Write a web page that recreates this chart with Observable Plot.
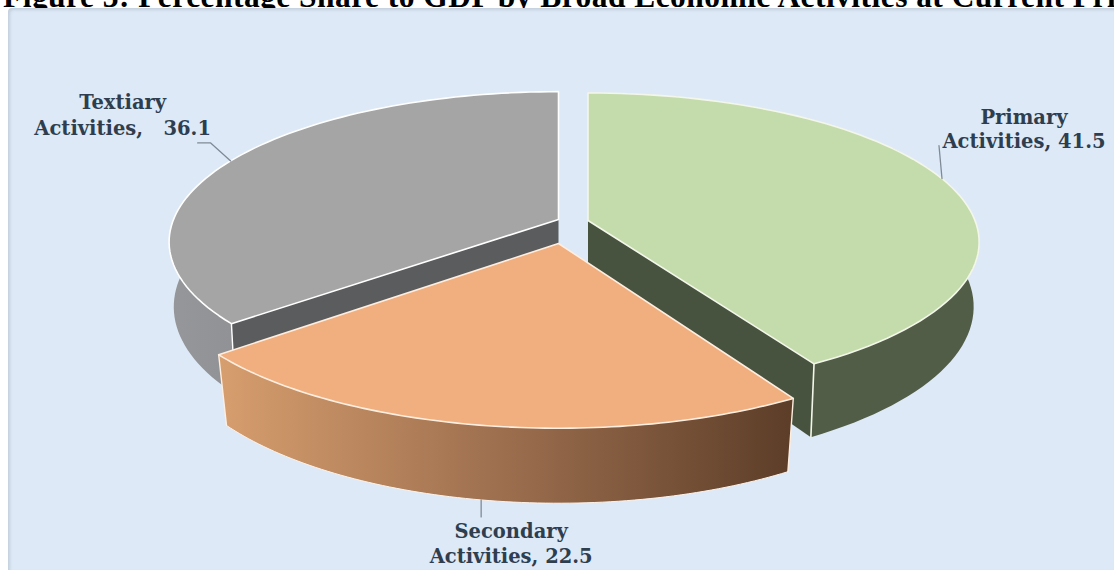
<!DOCTYPE html>
<html>
<head>
<meta charset="utf-8">
<script src="https://cdn.jsdelivr.net/npm/d3@7"></script>
<script src="https://cdn.jsdelivr.net/npm/@observablehq/plot@0.6"></script>
<style>
html,body{margin:0;padding:0;background:#fff;overflow:hidden;width:1114px;height:570px}
#title{height:8px;overflow:hidden;position:relative}
#title span{position:absolute;left:3px;bottom:-6px;white-space:nowrap;font:bold 31.5px/34px "Liberation Serif",serif;color:#000;letter-spacing:.45px}
#chart{margin-left:8px}
#chart svg{display:block;background:#dde9f6;border-top-left-radius:4px;box-shadow:inset 2px 2px 3px rgba(150,160,175,.35)}
</style>
</head>
<body>
<div id="title"><span>Figure 3: Percentage Share to GDP by Broad Economic Activities at Current Prices</span></div>
<div id="chart"></div>
<script>
const categories = ["Primary", "Secondary", "Textiary"];
const shares = [41.5, 22.5, 36.1];
const labelFirst = ["Primary", "Secondary", "Textiary"];
const labelSecond = ["Activities, 41.5", "Activities, 22.5", "Activities,   36.1"];

const total = d3.sum(shares);
const cum = d3.cumsum(shares);
const sliceAngles = shares.map((_, i) => [(i ? cum[i - 1] : 0) / total * 2 * Math.PI, cum[i] / total * 2 * Math.PI]);

// 3-D view of each exploded slice
const view = {
  Primary:   {cx: 587.5, cy: 220, A: 387, B: 146, k: 0.145, shrink: 0.014},
  Secondary: {cx: 558,   cy: 243, A: 400, B: 157, k: 0.15,  shrink: 0.023},
  Textiary:  {cx: 558,   cy: 219, A: 385, B: 147, k: 0.15,  shrink: 0.012}
};
const style = {
  Primary:   {top: "#c4dbab", wall: "#525d47", side: "#47533f", edge: "#f3f7ea"},
  Secondary: {top: "#f1ae7e", wall: "url(#wallSecondary)", side: "none", edge: "#fdeee0"},
  Textiary:  {top: "#a5a5a5", wall: "url(#wallTextiary)", side: "#5b5c5e", edge: "#ffffff"}
};
function project(name, t, depth) {
  const v = view[name], s = Math.sin(t), c = -Math.cos(t), f = 1 / (1 - v.k * c);
  return [v.cx + v.A * s * f * (1 - v.shrink * depth), v.cy + v.B * c * f + depth * (63 + 12 * c)];
}
function arc(name, t0, t1, depth) {
  return d3.range(81).map(i => project(name, t0 + (t1 - t0) * i / 80, depth));
}
const apex = (name, depth) => [view[name].cx, view[name].cy + depth * 63];

const drawOrder = ["Textiary", "Primary", "Secondary"];
const marks = [];
const poly = (pts, fill, stroke, w) => Plot.line([...pts, pts[0]], {x: d => d[0], y: d => d[1], fill, stroke: stroke || "none", strokeWidth: w || 0, curve: "linear", strokeLinejoin: "round"});

for (const name of drawOrder) {
  const i = categories.indexOf(name), [t0, t1] = sliceAngles[i], st = style[name];
  // outer wall
  marks.push(poly([...arc(name, t0, t1, 0), ...arc(name, t0, t1, 1).reverse()], st.wall));
  // cut wall facing the viewer
  if (name === "Primary") {
    const a = project(name, t1, 0), b = project(name, t1, 1);
    marks.push(poly([apex(name, 0), a, b, apex(name, 1)], st.side));
    marks.push(poly([a, b], "none", st.edge, 1.6));
  }
  if (name === "Textiary") {
    const a = project(name, t0, 0), b = project(name, t0, 1);
    marks.push(poly([apex(name, 0), a, b, apex(name, 1)], st.side));
    marks.push(poly([a, b], "none", st.edge, 1.4));
  }
  if (name === "Secondary") {
    const a = project(name, t0, 0), b = project(name, t0, 1);
    const c = project(name, t1, 0), d = project(name, t1, 1);
    marks.push(poly([a, b], "none", st.edge, 1.4));
    marks.push(poly([c, d], "none", st.edge, 1.4));
    marks.push(Plot.line(arc(name, t0, t1, 1), {x: d => d[0], y: d => d[1], stroke: "#fdf3ea", strokeWidth: 1}));
  }
  // top face
  marks.push(poly([apex(name, 0), ...arc(name, t0, t1, 0)], st.top, st.edge, 1.6));
}

// leader lines and labels hang off each slice's mid angle
const leaderNudge = {Primary: -0.035, Secondary: 0, Textiary: 0};
const leaderHops = {
  Primary:   [[-3, -33]],
  Secondary: [[0, 17]],
  Textiary:  [[-20, -18], [-33, -18]]
};
const labelAt = {
  Primary:   [82, -55, -31],
  Secondary: [30, 38, 63],
  Textiary:  [-108, -52, -26]
};
const leaderRows = [], textRows = [];
categories.forEach((name, i) => {
  const mid = (sliceAngles[i][0] + sliceAngles[i][1]) / 2 + leaderNudge[name];
  const p = project(name, mid, name === "Secondary" ? 1 : 0);
  leaderRows.push({name, x: p[0], y: p[1]});
  for (const h of leaderHops[name]) leaderRows.push({name, x: p[0] + h[0], y: p[1] + h[1]});
  const l = labelAt[name];
  textRows.push({t: labelFirst[i], x: p[0] + l[0], y: p[1] + l[1]});
  textRows.push({t: labelSecond[i], x: p[0] + l[0], y: p[1] + l[2]});
});
marks.push(Plot.line(leaderRows, {x: "x", y: "y", z: "name", stroke: "#7f8a96", strokeWidth: 1.3}));
marks.push(Plot.text(textRows, {x: "x", y: "y", text: "t", fill: "#2f3e4e", fontSize: 19.5, fontWeight: "bold", fontFamily: "DejaVu Serif", textAnchor: "middle", lineAnchor: "bottom"}));

const svg = Plot.plot({
  width: 1106, height: 562,
  margin: 0,
  x: {domain: [8, 1114], range: [0, 1106], axis: null},
  y: {domain: [8, 570], range: [0, 562], axis: null},
  marks
});
const defs = d3.select(svg).append("defs");
function grad(id, stops) {
  const g = defs.append("linearGradient").attr("id", id);
  stops.forEach(([o, c]) => g.append("stop").attr("offset", o).attr("stop-color", c));
}
grad("wallSecondary", [[0, "#d79e6e"], [0.5, "#9c6e4e"], [1, "#5c3d28"]]);
grad("wallTextiary", [[0, "#96979a"], [1, "#74777a"]]);
document.getElementById("chart").append(svg);
</script>
</body>
</html>
